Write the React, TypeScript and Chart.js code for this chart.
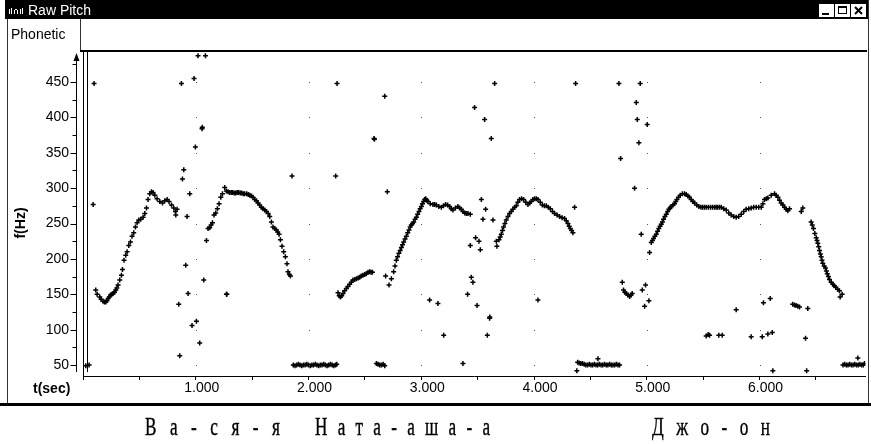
import React, { useEffect, useRef } from 'react';
import { Chart, registerables } from 'chart.js';

Chart.register(...registerables);

// ---- axis definitions ----
const xTickValues = [0, 0.5, 1, 1.5, 2, 2.5, 3, 3.5, 4, 4.5, 5, 5.5, 6, 6.5];
const xLabelValues = [1, 2, 3, 4, 5, 6];
const yTickValues = [50, 75, 100, 125, 150, 175, 200, 225, 250, 275, 300, 325, 350, 375, 400, 425, 450, 475];
const yLabelValues = [50, 100, 150, 200, 250, 300, 350, 400, 450];
const xMin = 0;
const xMax = 6.94;
const yMin = 34.5;
const yMax = 492.4;

const lyrics = ['В а - с я - я', 'Н а т а - а ш а - а', 'Д ж о - о н'];

// ---- pitch data: [time (s), f (Hz)] ----
const vasya1: number[][] = [
  [0.113, 156], [0.125, 150], [0.149, 146], [0.160, 143], [0.178, 140], [0.190, 139], [0.202, 139],
  [0.212, 141], [0.223, 144], [0.233, 146], [0.244, 149], [0.256, 150], [0.267, 151], [0.279, 153],
  [0.291, 156], [0.300, 159], [0.311, 163], [0.326, 170], [0.341, 177], [0.350, 185], [0.364, 198],
  [0.379, 205], [0.391, 210], [0.406, 219], [0.421, 224], [0.435, 232], [0.450, 237], [0.465, 245],
  [0.480, 251], [0.495, 255], [0.512, 256], [0.533, 259], [0.548, 264], [0.563, 272], [0.577, 284],
  [0.592, 292], [0.607, 295], [0.621, 294], [0.637, 290], [0.657, 285], [0.681, 281], [0.705, 279],
  [0.725, 282], [0.746, 284], [0.763, 281], [0.785, 276], [0.805, 272], [0.820, 267], [0.834, 270],
  [0.823, 262],
];

const vasyaStray: number[][] = [
  [0.090, 277], [0.098, 448], [0.025, 49], [0.054, 50], [0.849, 136], [0.858, 63], [0.873, 448],
  [0.882, 313], [0.894, 326], [0.911, 191], [0.923, 260], [0.932, 151], [0.947, 292], [0.967, 106],
  [0.985, 455], [0.997, 358], [1.006, 112], [1.020, 487], [1.035, 81], [1.056, 384], [1.058, 386],
  [1.071, 170], [1.086, 487], [1.272, 150], [1.276, 150], [1.854, 317],
];

const vasya2: number[][] = [
  [1.095, 226], [1.109, 243], [1.124, 244], [1.136, 248], [1.148, 251], [1.162, 262], [1.177, 265],
  [1.192, 271], [1.207, 278], [1.222, 287], [1.237, 292], [1.257, 301], [1.272, 296], [1.286, 295],
  [1.301, 294], [1.315, 294], [1.328, 294], [1.342, 293], [1.355, 293], [1.368, 294], [1.381, 294],
  [1.395, 293], [1.408, 293], [1.421, 292], [1.434, 292], [1.452, 292], [1.466, 291], [1.479, 290],
  [1.494, 289], [1.508, 287], [1.523, 284], [1.538, 282], [1.552, 279], [1.567, 276], [1.582, 273],
  [1.597, 271], [1.612, 269], [1.627, 267], [1.642, 264], [1.656, 260], [1.671, 252], [1.685, 245],
  [1.700, 243], [1.715, 241], [1.727, 238], [1.739, 235], [1.751, 227], [1.765, 218], [1.780, 210],
  [1.795, 203], [1.809, 193], [1.818, 182], [1.830, 178], [1.840, 176],
];

const silence1: number[][] = [
  [1.865, 50], [1.880, 49], [1.895, 50], [1.910, 51], [1.925, 50], [1.940, 49], [1.955, 50],
  [1.970, 50], [1.985, 51], [2.000, 50], [2.015, 49], [2.030, 50], [2.045, 50], [2.060, 51],
  [2.075, 50], [2.090, 49], [2.105, 50], [2.120, 50], [2.135, 51], [2.150, 50], [2.165, 49],
  [2.180, 50], [2.195, 51], [2.210, 50], [2.225, 49], [2.240, 50], [2.250, 51],
];

const natasha1: number[][] = [
  [2.262, 152], [2.272, 148], [2.283, 146], [2.295, 148], [2.306, 151], [2.320, 155], [2.336, 158],
  [2.350, 161], [2.365, 164], [2.380, 167], [2.394, 170], [2.410, 171], [2.425, 172], [2.440, 173],
  [2.454, 174], [2.468, 176], [2.483, 177], [2.498, 178], [2.513, 179], [2.528, 181], [2.543, 182],
  [2.555, 181], [2.567, 181],
];

const natashaStray: number[][] = [
  [2.241, 317], [2.253, 448], [2.581, 370], [2.585, 369], [2.602, 52], [2.617, 51], [2.632, 50],
  [2.647, 50], [2.662, 51], [2.676, 49], [2.676, 430], [2.699, 295], [3.074, 142], [3.148, 137],
  [3.199, 92], [3.370, 52], [3.411, 150], [3.435, 219], [3.444, 174], [3.458, 167], [3.473, 414],
  [3.482, 230], [3.495, 134], [3.512, 225], [3.524, 213], [3.533, 284], [3.547, 256], [3.562, 397],
  [3.571, 270], [3.586, 92], [3.606, 116], [3.608, 118], [3.621, 370], [3.636, 255], [3.651, 448],
  [4.035, 142], [4.360, 273], [4.369, 448],
];

const natasha2: number[][] = [
  [2.684, 176], [2.714, 163], [2.735, 172], [2.755, 182], [2.767, 190], [2.779, 198], [2.790, 203],
  [2.802, 208], [2.813, 212], [2.824, 216], [2.834, 220], [2.844, 224], [2.856, 228], [2.868, 232],
  [2.880, 237], [2.891, 241], [2.902, 245], [2.912, 248], [2.923, 250], [2.933, 252], [2.945, 256],
  [2.957, 259], [2.968, 263], [2.980, 267], [2.990, 271], [3.001, 274], [3.011, 278], [3.021, 281],
  [3.030, 284], [3.039, 285], [3.049, 283], [3.059, 281], [3.080, 278], [3.104, 277], [3.119, 277],
  [3.134, 276], [3.156, 274], [3.178, 273], [3.197, 275], [3.216, 277], [3.234, 276], [3.252, 274],
  [3.266, 271], [3.281, 269], [3.303, 272], [3.325, 274], [3.340, 272], [3.356, 270], [3.370, 267],
  [3.385, 265], [3.400, 264], [3.414, 264], [3.435, 263],
];

const natasha3: number[][] = [
  [3.666, 225], [3.671, 218], [3.689, 227], [3.700, 231], [3.710, 235], [3.720, 240], [3.730, 245],
  [3.742, 250], [3.754, 255], [3.769, 260], [3.784, 264], [3.798, 267], [3.813, 270], [3.828, 273],
  [3.843, 275], [3.857, 280], [3.872, 284], [3.890, 285], [3.908, 284], [3.927, 280], [3.946, 277],
  [3.961, 279], [3.976, 281], [3.990, 284], [4.005, 285], [4.020, 285], [4.035, 284], [4.055, 280],
  [4.074, 276], [4.092, 275], [4.109, 275], [4.127, 273], [4.145, 271], [4.164, 267], [4.183, 264],
  [4.205, 262], [4.227, 260], [4.249, 258], [4.271, 257], [4.286, 254], [4.301, 250], [4.312, 246],
  [4.322, 243], [4.334, 240], [4.345, 237],
];

const silence2: number[][] = [
  [4.380, 42], [4.387, 54], [4.400, 53], [4.415, 52], [4.430, 52], [4.445, 51], [4.460, 50],
  [4.475, 50], [4.490, 51], [4.505, 50], [4.520, 50], [4.535, 51], [4.550, 50], [4.565, 50],
  [4.567, 59], [4.580, 51], [4.595, 50], [4.610, 50], [4.625, 51], [4.640, 50], [4.655, 50],
  [4.670, 51], [4.685, 50], [4.700, 50], [4.715, 50], [4.730, 51], [4.745, 50], [4.759, 50],
];

const johnStray: number[][] = [
  [4.753, 448], [4.768, 342], [4.783, 167], [4.794, 156], [4.806, 153], [4.818, 151], [4.833, 149],
  [4.848, 147], [4.860, 149], [4.871, 151], [4.892, 300], [4.907, 421], [4.916, 397], [4.930, 364],
  [4.942, 448], [4.951, 235], [4.960, 156], [4.981, 133], [4.989, 163], [5.004, 390], [5.019, 141],
  [5.025, 209], [5.527, 91], [5.545, 93], [5.557, 92], [5.639, 92], [5.669, 92], [5.793, 128],
  [5.926, 90], [6.024, 90], [6.035, 138], [6.074, 94], [6.095, 144], [6.113, 96], [6.118, 42],
  [6.294, 136], [6.310, 135], [6.324, 134], [6.340, 133], [6.355, 132], [6.408, 88], [6.418, 42],
  [6.428, 130],
];

const john1: number[][] = [
  [5.040, 223], [5.050, 226], [5.060, 229], [5.072, 232], [5.084, 235], [5.096, 239], [5.107, 243],
  [5.118, 246], [5.129, 249], [5.139, 252], [5.149, 256], [5.161, 260], [5.173, 263], [5.185, 267],
  [5.196, 270], [5.207, 272], [5.217, 274], [5.232, 276], [5.246, 278], [5.257, 281], [5.267, 284],
  [5.282, 287], [5.297, 290], [5.316, 292], [5.335, 292], [5.350, 291], [5.364, 289], [5.379, 287],
  [5.394, 284], [5.409, 281], [5.424, 279], [5.443, 276], [5.462, 274], [5.480, 273], [5.495, 273],
  [5.511, 273], [5.527, 273], [5.546, 273], [5.565, 273], [5.583, 273], [5.601, 273], [5.615, 273],
  [5.628, 273], [5.644, 273], [5.660, 273], [5.683, 271], [5.705, 269], [5.727, 265], [5.749, 262],
  [5.771, 260], [5.793, 259], [5.815, 260], [5.838, 263], [5.860, 267], [5.882, 270], [5.904, 271],
  [5.926, 272], [5.948, 273], [5.971, 273], [5.993, 273], [6.015, 273], [6.030, 278], [6.044, 284],
  [6.060, 285], [6.074, 286], [6.104, 290], [6.133, 292], [6.148, 290], [6.163, 287], [6.178, 283],
  [6.192, 279], [6.207, 276], [6.222, 273], [6.237, 270], [6.251, 268], [6.266, 271],
];

const john2: number[][] = [
  [6.370, 267], [6.384, 272], [6.458, 252], [6.468, 248], [6.479, 243], [6.491, 236], [6.503, 230],
  [6.510, 226], [6.517, 222], [6.525, 217], [6.532, 212], [6.540, 207], [6.547, 203], [6.554, 198],
  [6.561, 194], [6.573, 190], [6.585, 187], [6.593, 183], [6.601, 179], [6.611, 175], [6.621, 171],
  [6.636, 167], [6.650, 164], [6.663, 162], [6.676, 160], [6.692, 157], [6.709, 155], [6.715, 146],
  [6.733, 150],
];

const silence3: number[][] = [
  [6.740, 50], [6.755, 51], [6.770, 50], [6.785, 50], [6.800, 51], [6.815, 50], [6.830, 50],
  [6.845, 51], [6.860, 50], [6.872, 60], [6.875, 50], [6.890, 51], [6.905, 50], [6.920, 50],
  [6.931, 52],
];

const seriesList = [
  vasya1, vasyaStray, vasya2, silence1, natasha1, natashaStray, natasha2, natasha3,
  silence2, johnStray, john1, john2, silence3,
];

const SANS = '"Liberation Sans", Arial, sans-serif';

const framePlugin = {
  id: 'windowFrame',
  afterDraw(chart: any) {
    const { ctx, scales } = chart;
    const xs = scales.x;
    const ys = scales.y;
    ctx.save();

    // title bar
    ctx.fillStyle = '#000';
    ctx.fillRect(5, 0, 863, 19);
    ctx.fillStyle = '#fff';
    // small icon
    ctx.fillRect(9, 9, 1, 5);
    ctx.fillRect(11, 8, 1, 6);
    ctx.fillRect(14, 10, 1, 4);
    ctx.fillRect(15, 9, 2, 1);
    ctx.fillRect(17, 10, 1, 4);
    ctx.fillRect(20, 9, 1, 5);
    ctx.fillRect(22, 8, 1, 6);
    ctx.font = '14px ' + SANS;
    ctx.textBaseline = 'middle';
    ctx.textAlign = 'left';
    ctx.fillText('Raw Pitch', 28, 11);

    // title buttons
    const btns = [819, 835, 851];
    btns.forEach((bx, i) => {
      ctx.fillStyle = '#fff';
      ctx.fillRect(bx, 4, 15, 13);
      ctx.strokeStyle = '#000';
      ctx.lineWidth = 1;
      ctx.beginPath();
      if (i === 0) {
        ctx.fillStyle = '#000';
        ctx.fillRect(bx + 3, 13, 7, 2);
      } else if (i === 1) {
        ctx.strokeRect(bx + 3.5, 6.5, 8, 7);
        ctx.fillStyle = '#000';
        ctx.fillRect(bx + 3, 6, 9, 2);
      } else {
        ctx.lineWidth = 2;
        ctx.moveTo(bx + 4, 7);
        ctx.lineTo(bx + 11, 14);
        ctx.moveTo(bx + 11, 7);
        ctx.lineTo(bx + 4, 14);
        ctx.stroke();
      }
    });

    // window borders
    ctx.strokeStyle = '#333';
    ctx.lineWidth = 1;
    ctx.beginPath();
    ctx.moveTo(7.5, 19);
    ctx.lineTo(7.5, 404);
    ctx.moveTo(868.5, 0);
    ctx.lineTo(868.5, 404);
    ctx.moveTo(80.5, 19);
    ctx.lineTo(80.5, 52);
    ctx.stroke();
    ctx.fillStyle = '#000';
    ctx.fillRect(0, 403, 871, 3);

    // top border of plot
    ctx.fillRect(80, 50, 787, 2);

    // inner double line
    ctx.strokeStyle = '#000';
    ctx.beginPath();
    ctx.moveTo(87.5, 52);
    ctx.lineTo(87.5, 372);
    ctx.stroke();

    // y axis line with arrow and ticks
    ctx.beginPath();
    ctx.moveTo(76.5, 58);
    ctx.lineTo(76.5, 372);
    ctx.stroke();
    ctx.beginPath();
    ctx.moveTo(76.5, 53);
    ctx.lineTo(73.5, 61);
    ctx.lineTo(79.5, 61);
    ctx.closePath();
    ctx.fill();
    ctx.beginPath();
    yTickValues.forEach((v) => {
      const py = Math.round(ys.getPixelForValue(v)) + 0.5;
      const len = v % 50 === 0 ? 6 : 4;
      ctx.moveTo(76.5 - len, py);
      ctx.lineTo(76.5, py);
    });
    ctx.stroke();

    // grid dots
    ctx.fillStyle = '#555';
    xLabelValues.forEach((tx) => {
      const px = Math.round(xs.getPixelForValue(tx));
      yLabelValues.forEach((fy) => {
        const py = Math.round(ys.getPixelForValue(fy));
        ctx.fillRect(px, py, 1, 1);
      });
    });

    // texts
    ctx.fillStyle = '#000';
    ctx.font = '14px ' + SANS;
    ctx.textBaseline = 'middle';
    ctx.textAlign = 'left';
    ctx.fillText('Phonetic', 11, 35);
    ctx.font = 'bold 14px ' + SANS;
    ctx.fillText('t(sec)', 33, 389);
    ctx.translate(21, 223);
    ctx.rotate(-Math.PI / 2);
    ctx.textAlign = 'center';
    ctx.fillText('f(Hz)', 0, 0);

    ctx.restore();
  },
};

const lyricBoxes = [
  { left: 145, width: 135 },
  { left: 315, width: 175 },
  { left: 652, width: 118 },
];
const LYRIC_SCALE = 0.66;
const LYRIC_FONT = '26px "Liberation Serif", "Times New Roman", serif';

function letterSpacingFor(text: string, target: number): number {
  const c = document.createElement('canvas');
  const cx = c.getContext('2d');
  if (!cx) return 0;
  cx.font = LYRIC_FONT;
  const natural = cx.measureText(text).width;
  const n = Array.from(text).length;
  return (target / LYRIC_SCALE - natural) / (n - 1);
}

export default function App() {
  const canvasRef = useRef<HTMLCanvasElement | null>(null);

  useEffect(() => {
    const canvas = canvasRef.current;
    if (!canvas) return;
    const datasets = seriesList.map((s) => ({
      data: s.map(([t, f]) => ({ x: t, y: f })),
      pointStyle: 'cross' as const,
      pointRadius: 2.5,
      pointBorderWidth: 1.5,
      borderColor: '#000',
      backgroundColor: '#000',
      pointBorderColor: '#000',
      showLine: false,
    }));
    const chart = new Chart(canvas, {
      type: 'scatter',
      data: { datasets },
      plugins: [framePlugin],
      options: {
        animation: false,
        responsive: false,
        devicePixelRatio: 1,
        layout: { padding: { left: 0, top: 52, right: 5, bottom: 0 } },
        plugins: { legend: { display: false }, tooltip: { enabled: false } },
        scales: {
          x: {
            type: 'linear',
            position: 'bottom',
            min: xMin,
            max: xMax,
            afterBuildTicks: (s: any) => {
              s.ticks = xTickValues.map((v) => ({ value: v }));
            },
            afterFit: (s: any) => {
              s.height = 68;
            },
            ticks: {
              autoSkip: false,
              maxRotation: 0,
              minRotation: 0,
              padding: 0,
              labelOffset: 6,
              color: '#000',
              font: { family: SANS, size: 14 },
              callback: (v: any) => (xLabelValues.includes(Number(v)) ? Number(v).toFixed(3) : ''),
            },
            grid: { display: true, drawOnChartArea: false, drawTicks: true, tickLength: 4, color: '#000' },
            border: { display: true, color: '#000', width: 1 },
          },
          y: {
            type: 'linear',
            position: 'left',
            min: yMin,
            max: yMax,
            afterBuildTicks: (s: any) => {
              s.ticks = yTickValues.map((v) => ({ value: v }));
            },
            afterFit: (s: any) => {
              s.width = 83;
            },
            ticks: {
              autoSkip: false,
              padding: 14,
              color: '#000',
              font: { family: SANS, size: 14 },
              callback: (v: any) => (Number(v) % 50 === 0 ? String(v) : ''),
            },
            grid: { display: false, drawTicks: false, tickLength: 0 },
            border: { display: true, color: '#000', width: 1 },
          },
        },
      } as any,
    });
    return () => chart.destroy();
  }, []);

  return (
    <div style={{ position: 'absolute', left: 0, top: 0, width: 871, height: 444, background: '#fff', overflow: 'hidden' }}>
      <canvas ref={canvasRef} width={871} height={444} style={{ position: 'absolute', left: 0, top: 0, width: 871, height: 444, display: 'block' }} />
      {lyrics.map((text, i) => (
        <div
          key={i}
          style={{
            position: 'absolute',
            left: lyricBoxes[i].left,
            top: 414,
            font: LYRIC_FONT,
            lineHeight: '26px',
            whiteSpace: 'pre',
            color: '#000',
            letterSpacing: letterSpacingFor(text, lyricBoxes[i].width) + 'px',
            transform: `scaleX(${LYRIC_SCALE})`,
            transformOrigin: 'left top',
            WebkitTextStroke: '0.4px #000',
          }}
        >
          {text}
        </div>
      ))}
    </div>
  );
}
